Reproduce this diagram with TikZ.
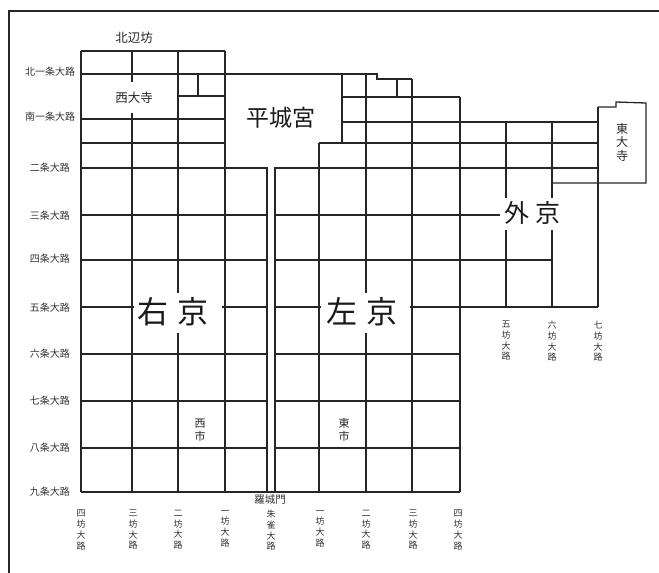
\documentclass[tikz,border=0pt]{standalone}
\usepackage{fontspec}
\setmainfont{Noto Sans CJK JP}
\begin{document}
\begin{tikzpicture}[x=1pt,y=-1pt,
    road/.style={line width=1.3pt,black!85},
    lbl/.style={font=\fontsize{10}{11}\selectfont,inner sep=0pt,text=black!80},
    vlbl/.style={font=\fontsize{9}{10.7}\selectfont,inner sep=0pt,align=center,text=black!80},
    mid/.style={font=\fontsize{12.5}{13.5}\selectfont,inner sep=0pt,align=center,text=black!85},
    big/.style={inner sep=0pt,text=black!90}]
    \useasboundingbox (0,0) rectangle (659,573);
    \draw[line width=2pt,black!85] (9,573) -- (9,11) -- (659,11);
    % streets running north-south
    \draw[road] (81,51) -- (81,492);
    \draw[road] (132,51) -- (132,82) (132,113) -- (132,492);
    \draw[road] (178,51) -- (178,293) (178,333) -- (178,492);
    \draw[road] (225,51) -- (225,492);
    \draw[road] (267,167) -- (267,492) (275,167) -- (275,492);
    \draw[road] (319,143) -- (319,492);
    \draw[road] (342,74) -- (342,143);
    \draw[road] (366,74) -- (366,293) (366,333) -- (366,492);
    \draw[road] (198,74) -- (198,96) (397,79) -- (397,96);
    \draw[road] (412,79) -- (412,492);
    \draw[road] (460,97) -- (460,492);
    \draw[road] (506,122) -- (506,198) (506,230) -- (506,307);
    \draw[road] (552,122) -- (552,198) (552,230) -- (552,307);
    \draw[road] (598,107) -- (598,307);
    % streets running east-west
    \draw[road] (81,51) -- (225,51);
    \draw[road] (81,74) -- (377,74) -- (377,79) -- (412,79);
    \draw[road] (178,96) -- (225,96) (342,97) -- (460,97);
    \draw[road] (81,119) -- (225,119) (342,122) -- (598,122);
    \draw[road] (81,143) -- (225,143) (319,143) -- (598,143);
    \draw[road] (81,168) -- (267,168) (275,168) -- (598,168);
    \draw[road] (598,107) -- (616,107) -- (616,102) -- (646,103) -- (646,183) -- (552,183);
    \draw[road] (81,215) -- (267,215) (275,215) -- (500,215);
    \draw[road] (81,260) -- (267,260) (275,260) -- (552,260);
    \draw[road] (81,307) -- (134,307) (222,307) -- (267,307)
      (275,307) -- (321,307) (410,307) -- (598,307);
    \foreach \y in {354,401,448}
      \draw[road] (81,\y) -- (267,\y) (275,\y) -- (460,\y);
    \draw[road] (81,492) -- (460,492);
    % labels
    \node[lbl] (kita1) at (50,72) {北一条大路};
    \node[lbl] (minami1) at (50,117) {南一条大路};
    \foreach \n/\y in {二/168,三/216,四/259,五/308,六/354,七/401,八/448,九/492}
      \node[lbl] (jo-\y) at (50,\y) {\n 条大路};
    \foreach \n/\x in {四/81,三/133,二/178,一/225,一/320,二/366,三/413,四/458}
      \node[vlbl,anchor=north] (bo-\x) at (\x,510) {\n\\坊\\大\\路};
    \foreach \n/\x in {五/506,六/552,七/598}
      \node[vlbl,anchor=north] (bo-\x) at (\x,321) {\n\\坊\\大\\路};
    \node[vlbl,anchor=north] (suzaku) at (271,510) {朱\\雀\\大\\路};
    \node[lbl,font=\fontsize{10.5}{11}\selectfont] (rajomon) at (270,500) {羅城門};
    \node[mid] (hokuhen) at (134,38) {北辺坊};
    \node[mid] (saidaiji) at (134,98) {西大寺};
    \node[mid,font=\fontsize{12}{13.5}\selectfont] (todaiji) at (622,142) {東\\大\\寺};
    \node[mid,font=\fontsize{11}{13}\selectfont] (nishiichi) at (200,430) {西\\市};
    \node[mid,font=\fontsize{11}{13}\selectfont] (higashiichi) at (344,430) {東\\市};
    \node[big,font=\fontsize{23}{25}\selectfont] (heijo) at (281,118) {平城宮};
    \node[big,font=\fontsize{31}{33}\selectfont] (ukyo) at (173,312) {右\hspace{9pt}京};
    \node[big,font=\fontsize{31}{33}\selectfont] (sakyo) at (362,312) {左\hspace{9pt}京};
    \node[big,font=\fontsize{25}{27}\selectfont] (gekyo) at (532,213) {外\hspace{6pt}京};
  \end{tikzpicture}
\end{document}
